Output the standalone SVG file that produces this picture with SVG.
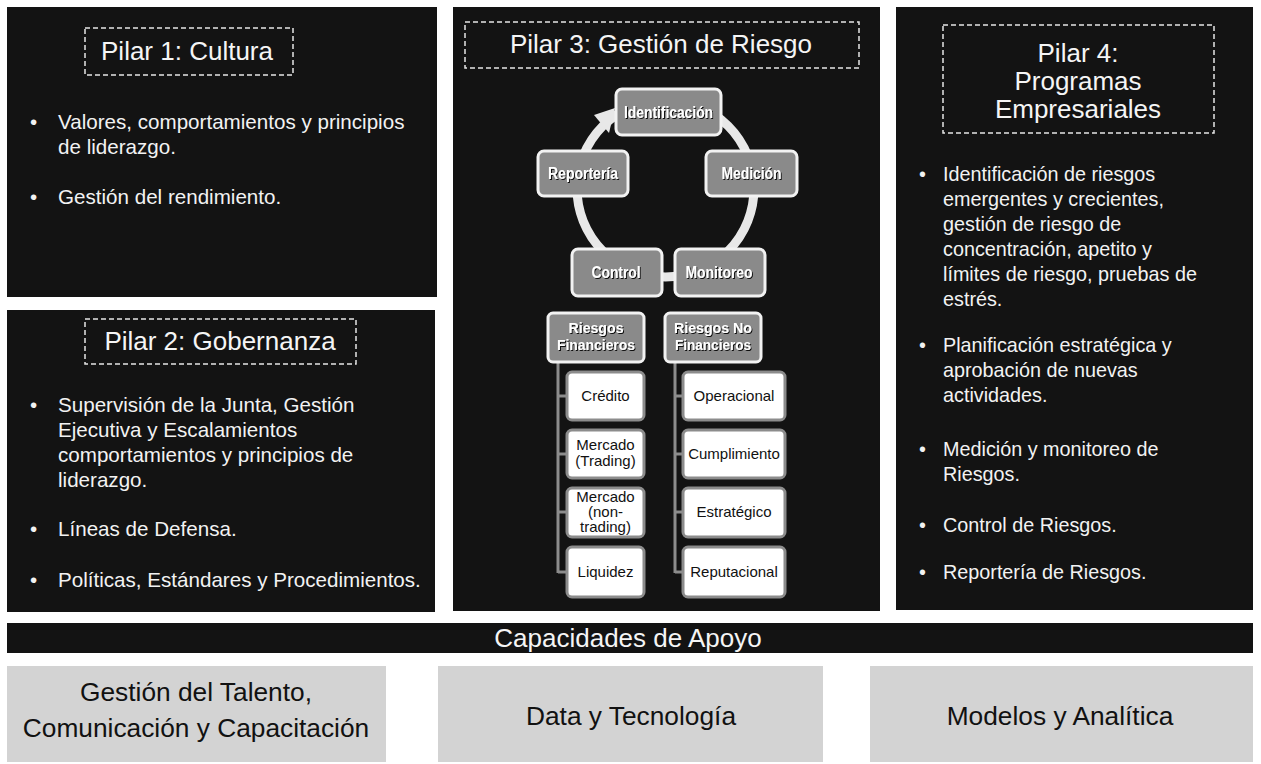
<svg xmlns="http://www.w3.org/2000/svg" width="1261" height="764" viewBox="0 0 1261 764">
<defs>
<filter id="sh" x="-10%" y="-20%" width="120%" height="150%">
<feDropShadow dx="1" dy="1" stdDeviation="0.6" flood-color="#000" flood-opacity="0.9"/>
</filter>
<style>
.panel{fill:#131313}
.tbox{fill:none;stroke:#e6e6e6;stroke-width:1.5;stroke-dasharray:5 3}
.title{font-family:"Liberation Sans",Arial,sans-serif;font-size:26px;fill:#f5f5f5;text-anchor:middle}
.body{font-family:"Liberation Sans",Arial,sans-serif;font-size:20.6px;fill:#f2f2f2}
.body4{font-family:"Liberation Sans",Arial,sans-serif;font-size:19.8px;fill:#f2f2f2}
.gbox{fill:#8a8a8a;stroke:#f2f2f2;stroke-width:3}
.wbox{fill:#ffffff;stroke:#8c8c8c;stroke-width:3}
.ctext{font-family:"Liberation Sans",Arial,sans-serif;font-weight:bold;font-size:16px;fill:#ffffff;text-anchor:middle}
.htext{font-family:"Liberation Sans",Arial,sans-serif;font-weight:bold;font-size:14px;fill:#ffffff;text-anchor:middle}
.ltext{font-family:"Liberation Sans",Arial,sans-serif;font-size:15px;fill:#111;text-anchor:middle}
.band{fill:#131313}
.lbox{fill:#d3d3d3}
.btext{font-family:"Liberation Sans",Arial,sans-serif;font-size:26.3px;fill:#111;text-anchor:middle}
.ring{fill:none;stroke:#e8e8e8;stroke-width:9}
.tree{fill:none;stroke:#8c8c8c;stroke-width:3}
</style>
</defs>
<rect width="1261" height="764" fill="#ffffff"/>

<g id="pilar1">
<rect class="panel" x="7" y="7" width="430" height="290"/>
<rect class="tbox" x="85" y="28" width="208" height="47"/>
<text class="title" x="187" y="60">Pilar 1: Cultura</text>
<text class="body" x="30" y="129">•</text>
<text class="body" x="58" y="129">Valores, comportamientos y principios</text>
<text class="body" x="58" y="154">de liderazgo.</text>
<text class="body" x="30" y="204">•</text>
<text class="body" x="58" y="204">Gestión del rendimiento.</text>
</g>

<g id="pilar2">
<rect class="panel" x="7" y="310" width="428" height="302"/>
<rect class="tbox" x="85" y="319" width="271" height="45"/>
<text class="title" x="220" y="350">Pilar 2: Gobernanza</text>
<text class="body" x="30" y="412">•</text>
<text class="body" x="58" y="412">Supervisión de la Junta, Gestión</text>
<text class="body" x="58" y="437">Ejecutiva y Escalamientos</text>
<text class="body" x="58" y="462">comportamientos y principios de</text>
<text class="body" x="58" y="487">liderazgo.</text>
<text class="body" x="30" y="536">•</text>
<text class="body" x="58" y="536">Líneas de Defensa.</text>
<text class="body" x="30" y="587">•</text>
<text class="body" x="58" y="587">Políticas, Estándares y Procedimientos.</text>
</g>

<g id="pilar3">
<rect class="panel" x="453" y="7" width="427" height="604"/>
<rect class="tbox" x="465" y="22" width="394" height="46"/>
<text class="title" x="661" y="53">Pilar 3: Gestión de Riesgo</text>
</g>

<g id="connectors">
<circle class="ring" cx="665.5" cy="188.5" r="88.5"/>
<polygon points="594,115 615,108 609,133" fill="#e8e8e8"/>
<path class="tree" d="M558,362 V573 M558,396 H567 M558,454 H567 M558,512 H567 M558,572 H567"/>
<path class="tree" d="M675,362 V573 M675,396 H683 M675,454 H683 M675,512 H683 M675,572 H683"/>
</g>

<g id="identificacion">
<rect class="gbox" x="616" y="89" width="105" height="46" rx="6"/>
<text class="ctext" x="668.5" y="118" textLength="89" lengthAdjust="spacingAndGlyphs" filter="url(#sh)">Identificación</text>
</g>
<g id="medicion">
<rect class="gbox" x="706" y="151" width="91" height="45" rx="6"/>
<text class="ctext" x="751.5" y="179" textLength="60" lengthAdjust="spacingAndGlyphs" filter="url(#sh)">Medición</text>
</g>
<g id="monitoreo">
<rect class="gbox" x="675" y="249" width="90" height="47" rx="6"/>
<text class="ctext" x="719" y="278" textLength="67" lengthAdjust="spacingAndGlyphs" filter="url(#sh)">Monitoreo</text>
</g>
<g id="control">
<rect class="gbox" x="572" y="249" width="90" height="47" rx="6"/>
<text class="ctext" x="616" y="278" textLength="49" lengthAdjust="spacingAndGlyphs" filter="url(#sh)">Control</text>
</g>
<g id="reporteria">
<rect class="gbox" x="538" y="151" width="90" height="45" rx="6"/>
<text class="ctext" x="583" y="179" textLength="70" lengthAdjust="spacingAndGlyphs" filter="url(#sh)">Reportería</text>
</g>

<g id="riesgos-financieros">
<rect class="gbox" x="548" y="313" width="96" height="49" rx="5"/>
<text class="htext" x="596" y="333" textLength="55" lengthAdjust="spacingAndGlyphs" filter="url(#sh)">Riesgos</text>
<text class="htext" x="596" y="350" textLength="78" lengthAdjust="spacingAndGlyphs" filter="url(#sh)">Financieros</text>
</g>
<g id="credito">
<rect class="wbox" x="567" y="372" width="77" height="48" rx="5"/>
<text class="ltext" x="605.5" y="401">Crédito</text>
</g>
<g id="mercado-trading">
<rect class="wbox" x="567" y="430" width="77" height="48" rx="5"/>
<text class="ltext" x="605.5" y="450">Mercado</text>
<text class="ltext" x="605.5" y="466">(Trading)</text>
</g>
<g id="mercado-non-trading">
<rect class="wbox" x="567" y="488" width="77" height="49" rx="5"/>
<text class="ltext" x="605.5" y="502">Mercado</text>
<text class="ltext" x="605.5" y="517">(non-</text>
<text class="ltext" x="605.5" y="532">trading)</text>
</g>
<g id="liquidez">
<rect class="wbox" x="567" y="547" width="77" height="50" rx="5"/>
<text class="ltext" x="605.5" y="577">Liquidez</text>
</g>

<g id="riesgos-no-financieros">
<rect class="gbox" x="665" y="313" width="96" height="49" rx="5"/>
<text class="htext" x="713" y="333" textLength="78" lengthAdjust="spacingAndGlyphs" filter="url(#sh)">Riesgos No</text>
<text class="htext" x="713" y="350" textLength="76" lengthAdjust="spacingAndGlyphs" filter="url(#sh)">Financieros</text>
</g>
<g id="operacional">
<rect class="wbox" x="683" y="372" width="102" height="48" rx="5"/>
<text class="ltext" x="734" y="401">Operacional</text>
</g>
<g id="cumplimiento">
<rect class="wbox" x="683" y="430" width="102" height="48" rx="5"/>
<text class="ltext" x="734" y="459">Cumplimiento</text>
</g>
<g id="estrategico">
<rect class="wbox" x="683" y="488" width="102" height="49" rx="5"/>
<text class="ltext" x="734" y="517">Estratégico</text>
</g>
<g id="reputacional">
<rect class="wbox" x="683" y="547" width="102" height="50" rx="5"/>
<text class="ltext" x="734" y="577">Reputacional</text>
</g>

<g id="pilar4">
<rect class="panel" x="896" y="7" width="357" height="603"/>
<rect class="tbox" x="943" y="25" width="271" height="108"/>
<text class="title" x="1078" y="62">Pilar 4:</text>
<text class="title" x="1078" y="90">Programas</text>
<text class="title" x="1078" y="118">Empresariales</text>
<text class="body4" x="919" y="181">•</text>
<text class="body4" x="943" y="181">Identificación de riesgos</text>
<text class="body4" x="943" y="206">emergentes y crecientes,</text>
<text class="body4" x="943" y="231">gestión de riesgo de</text>
<text class="body4" x="943" y="256">concentración, apetito y</text>
<text class="body4" x="943" y="281">límites de riesgo, pruebas de</text>
<text class="body4" x="943" y="306">estrés.</text>
<text class="body4" x="919" y="352">•</text>
<text class="body4" x="943" y="352">Planificación estratégica y</text>
<text class="body4" x="943" y="377">aprobación de nuevas</text>
<text class="body4" x="943" y="402">actividades.</text>
<text class="body4" x="919" y="456">•</text>
<text class="body4" x="943" y="456">Medición y monitoreo de</text>
<text class="body4" x="943" y="481">Riesgos.</text>
<text class="body4" x="919" y="532">•</text>
<text class="body4" x="943" y="532">Control de Riesgos.</text>
<text class="body4" x="919" y="579">•</text>
<text class="body4" x="943" y="579">Reportería de Riesgos.</text>
</g>

<g id="capacidades">
<rect class="band" x="7" y="623" width="1246" height="30"/>
<text class="title" x="628" y="647">Capacidades de Apoyo</text>
</g>
<g id="talento">
<rect class="lbox" x="7" y="666" width="379" height="96"/>
<text class="btext" x="196" y="701">Gestión del Talento,</text>
<text class="btext" x="196" y="737">Comunicación y Capacitación</text>
</g>
<g id="data">
<rect class="lbox" x="438" y="666" width="385" height="96"/>
<text class="btext" x="631" y="725">Data y Tecnología</text>
</g>
<g id="modelos">
<rect class="lbox" x="870" y="666" width="383" height="96"/>
<text class="btext" x="1060" y="725">Modelos y Analítica</text>
</g>
</svg>
